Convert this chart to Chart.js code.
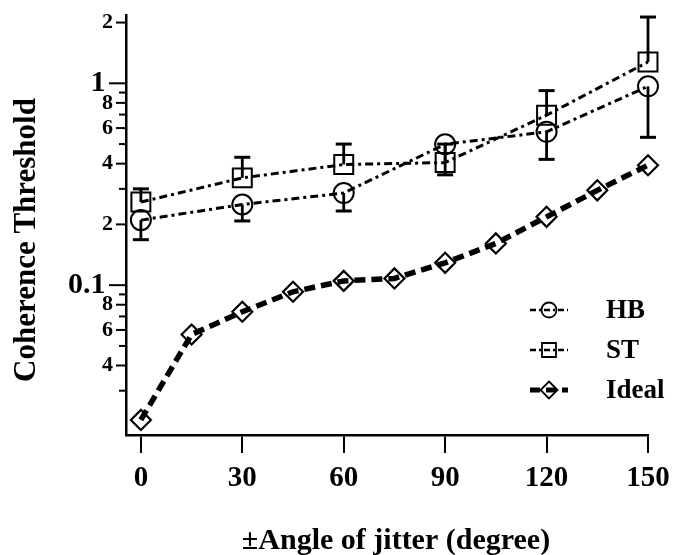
<!DOCTYPE html>
<html>
<head>
<meta charset="utf-8">
<script src="https://cdn.jsdelivr.net/npm/chart.js@4/dist/chart.umd.min.js"></script>
<style>
  html, body { margin: 0; padding: 0; background: #fff; }
  canvas { display: block; }
</style>
</head>
<body>
<canvas id="chart" width="674" height="555"></canvas>
<script>
// jitter angles (degrees)
var idealAngles = [0, 15, 30, 45, 60, 75, 90, 105, 120, 135, 150];
var observerAngles = [0, 30, 60, 90, 120, 150];
var xTickValues = [0, 30, 60, 90, 120, 150];

// coherence thresholds
var idealValues = [0.0215, 0.057, 0.0738, 0.0927, 0.105, 0.108, 0.129, 0.161, 0.218, 0.295, 0.393];
var hbValues = [0.21, 0.251, 0.286, 0.499, 0.575, 0.966];
var hbLower = [0.168, 0.208, 0.233, 0.352, 0.42, 0.54];
var stValues = [0.258, 0.34, 0.396, 0.405, 0.695, 1.276];
var stUpper = [0.30, 0.43, 0.50, 0.50, 0.92, 2.13];

// y axis ticks and the few that carry a label
var yTickValues = [0.03, 0.04, 0.05, 0.06, 0.07, 0.08, 0.09, 0.1, 0.2, 0.3, 0.4, 0.5, 0.6, 0.7, 0.8, 0.9, 1, 2];
var yLabelValues = [2, 1, 0.8, 0.6, 0.4, 0.2, 0.1, 0.08, 0.06, 0.04];
var yLabelTexts = ["2", "1", "8", "6", "4", "2", "0.1", "8", "6", "4"];
var yMajorValues = [1, 0.1];

var seriesNames = ["HB", "ST", "Ideal"];

var serif = '"Liberation Serif", "Times New Roman", serif';

function toPoints(xs, ys) {
  return xs.map(function(x, i) { return { x: x, y: ys[i] }; });
}

// vertical error bars: HB drawn down, ST drawn up
var errorBars = {
  id: "errorBars",
  afterDatasetsDraw: function(chart) {
    var ctx = chart.ctx, xs = chart.scales.x, ys = chart.scales.y;
    ctx.save();
    ctx.strokeStyle = "#000";
    ctx.setLineDash([]);
    [[hbValues, hbLower], [stValues, stUpper]].forEach(function(pair) {
      observerAngles.forEach(function(a, i) {
        var px = xs.getPixelForValue(a);
        var y0 = ys.getPixelForValue(pair[0][i]);
        var y1 = ys.getPixelForValue(pair[1][i]);
        ctx.lineWidth = 2.8;
        ctx.beginPath(); ctx.moveTo(px, y0); ctx.lineTo(px, y1); ctx.stroke();
        ctx.lineWidth = 3;
        ctx.beginPath(); ctx.moveTo(px - 8, y1); ctx.lineTo(px + 8, y1); ctx.stroke();
      });
    });
    ctx.restore();
  }
};

function marker(ctx, style, x, y, r) {
  ctx.beginPath();
  if (style === "circle") ctx.arc(x, y, r, 0, Math.PI * 2);
  else if (style === "rect") ctx.rect(x - r, y - r, 2 * r, 2 * r);
  else { ctx.moveTo(x, y - r); ctx.lineTo(x + r, y); ctx.lineTo(x, y + r); ctx.lineTo(x - r, y); ctx.closePath(); }
  ctx.stroke();
}

// y tick marks of three lengths, axis titles and the legend
var decorations = {
  id: "decorations",
  afterDraw: function(chart) {
    var ctx = chart.ctx, ys = chart.scales.y;
    var axisX = chart.chartArea.left;
    ctx.save();
    ctx.strokeStyle = "#000";
    ctx.fillStyle = "#000";
    ctx.lineWidth = 2;
    yTickValues.forEach(function(v) {
      var py = ys.getPixelForValue(v);
      var len = yMajorValues.indexOf(v) >= 0 ? 17 : (yLabelValues.indexOf(v) >= 0 ? 10 : 7);
      ctx.beginPath(); ctx.moveTo(axisX - len, py); ctx.lineTo(axisX, py); ctx.stroke();
    });

    ctx.font = "bold 30px " + serif;
    ctx.textAlign = "center";
    ctx.textBaseline = "alphabetic";
    ctx.fillText("\u00b1Angle of jitter (degree)", 396, 549);
    ctx.save();
    ctx.translate(35, 240);
    ctx.rotate(-Math.PI / 2);
    ctx.font = "bold 31px " + serif;
    ctx.fillText("Coherence Threshold", 0, 0);
    ctx.restore();

    // legend
    var rows = [310, 350, 390];
    chart.data.datasets.forEach(function(ds, i) {
      var y = rows[i];
      ctx.lineWidth = i === 2 ? 5 : 2.5;
      ctx.setLineDash(i === 2 ? [10, 6] : [6, 3, 2, 3]);
      ctx.beginPath(); ctx.moveTo(530, y); ctx.lineTo(568, y); ctx.stroke();
      ctx.setLineDash([]);
      ctx.lineWidth = 1.8;
      marker(ctx, ["circle", "rect", "diamond"][i], 549, y, [7.5, 7, 8.5][i]);
      ctx.font = "bold 27px " + serif;
      ctx.textAlign = "left";
      ctx.textBaseline = "middle";
      ctx.fillText(ds.label, 606, y + 1);
    });
    ctx.restore();
  }
};

new Chart(document.getElementById("chart"), {
  type: "line",
  data: {
    datasets: [
      {
        label: seriesNames[0],
        data: toPoints(observerAngles, hbValues),
        borderColor: "#000", borderWidth: 3, borderDash: [8, 4, 3, 4],
        pointStyle: "circle", pointRadius: 10, pointBorderWidth: 2,
        pointBorderColor: "#000", pointBackgroundColor: "rgba(0,0,0,0)",
        tension: 0, clip: false
      },
      {
        label: seriesNames[1],
        data: toPoints(observerAngles, stValues),
        borderColor: "#000", borderWidth: 3, borderDash: [8, 4, 3, 4],
        pointStyle: "rect", pointRadius: 13.4, pointBorderWidth: 2,
        pointBorderColor: "#000", pointBackgroundColor: "rgba(0,0,0,0)",
        tension: 0, clip: false
      },
      {
        label: seriesNames[2],
        data: toPoints(idealAngles, idealValues),
        borderColor: "#000", borderWidth: 5.5, borderDash: [11, 6],
        pointStyle: "rectRot", pointRadius: 10, pointBorderWidth: 2.2,
        pointBorderColor: "#000", pointBackgroundColor: "rgba(0,0,0,0)",
        tension: 0, clip: false
      }
    ]
  },
  options: {
    responsive: false,
    animation: false,
    layout: { padding: { left: 0, top: 15, right: 26, bottom: 0 } },
    plugins: { legend: { display: false }, tooltip: { enabled: false } },
    scales: {
      x: {
        type: "linear", min: -4.4, max: 150,
        afterBuildTicks: function(s) { s.ticks = xTickValues.map(function(v) { return { value: v }; }); },
        afterFit: function(s) { s.height = 120; s.paddingLeft = 0; s.paddingRight = 0; },
        grid: { display: true, drawOnChartArea: false, drawTicks: true, tickLength: 18, lineWidth: 2, color: "#000" },
        border: { display: true, width: 2.5, color: "#000" },
        ticks: { color: "#000", padding: 8, maxRotation: 0, autoSkip: false,
                 font: { family: serif, size: 29, weight: "bold" } }
      },
      y: {
        type: "logarithmic", min: 0.0181, max: 2.17,
        afterBuildTicks: function(s) { s.ticks = yTickValues.map(function(v) { return { value: v }; }); },
        // fixed width, and no extra room for the end labels so the plot area matches
        afterFit: function(s) { s.width = 126; s.paddingTop = 0; s.paddingBottom = 0; },
        grid: { display: false, drawTicks: false },
        border: { display: true, width: 2.5, color: "#000" },
        ticks: {
          color: "#000", padding: 13, autoSkip: false,
          callback: function(value) {
            var k = yLabelValues.indexOf(value);
            if (k < 0) return "";
            // a trailing space pushes the big decade labels further left
            return yMajorValues.indexOf(value) >= 0 ? yLabelTexts[k] + " " : yLabelTexts[k];
          },
          font: function(c) {
            var big = c.tick && yMajorValues.indexOf(c.tick.value) >= 0;
            return { family: serif, weight: "bold", size: big ? 30 : 22 };
          }
        }
      }
    }
  },
  plugins: [errorBars, decorations]
});
</script>
</body>
</html>
